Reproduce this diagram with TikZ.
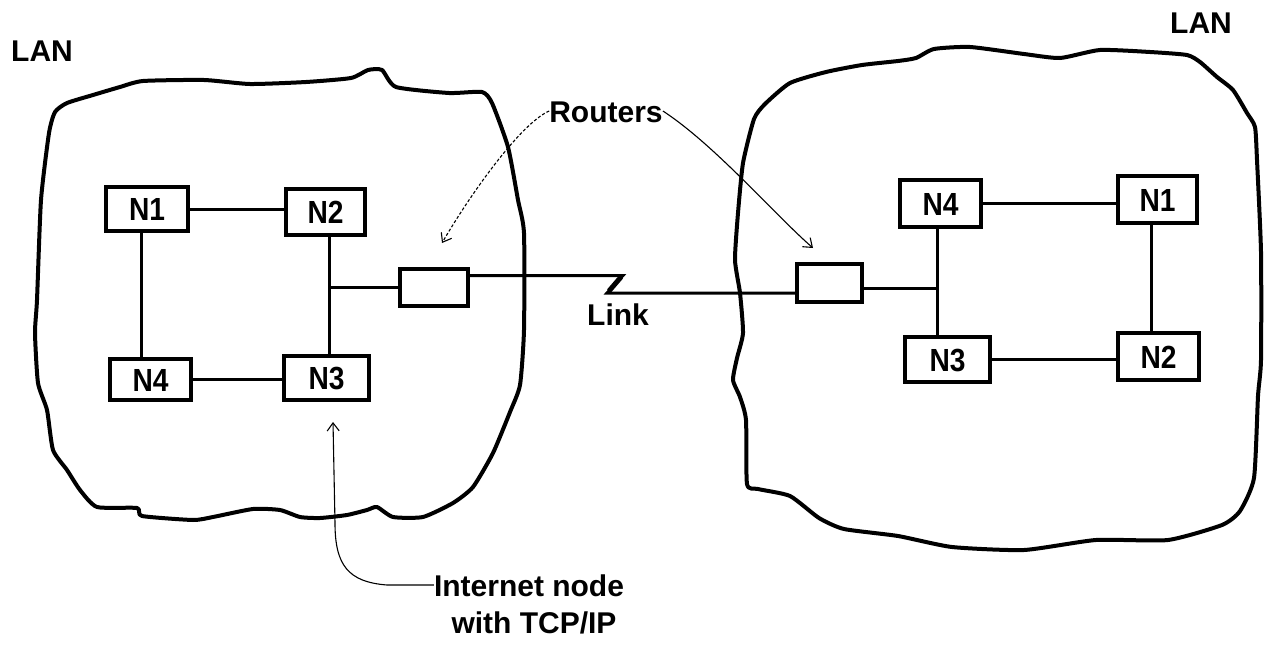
\documentclass[tikz,border=0pt]{standalone}
\usepackage{fontspec}
\setmainfont{Liberation Sans}
\newfontfamily\lblfont{Liberation Sans}
\newfontfamily\nodefont{Liberation Sans}[FakeStretch=0.88]
\usetikzlibrary{arrows.meta,calc}
\begin{document}
\begin{tikzpicture}[x=1pt,y=-1pt,
  txt/.style={inner sep=0pt,text height=22pt,text depth=0pt,font=\lblfont\bfseries\fontsize{30}{36}\selectfont},
  nbox/.style={draw,line width=3.5pt,inner sep=0pt,outer sep=0pt,text height=23pt,text depth=0pt,font=\nodefont\bfseries\fontsize{32}{38}\selectfont},
  rbox/.style={draw,line width=3.5pt,inner sep=0pt,outer sep=0pt},
  wire/.style={line width=3pt},
  blob/.style={line width=4pt,line join=round},
  ptr/.style={line width=1.1pt,-{Straight Barb[length=8pt,width=12pt]}}
]
\useasboundingbox[fill=white] (0,0) rectangle (1264,645);

% LAN clouds
\draw[blob] plot[smooth cycle,tension=0.35] coordinates {
 (55,112) (67,103) (93,95) (120,87) (143,81) (204,80) (250,84) (306,82) (351,78)
 (368,70) (382,70) (396,87) (449,93) (482,92) (492,103) (508,147) (518,200)
 (524,233) (524,330) (520,385) (510,412) (493,453) (473,487) (453,503) (423,517)
 (393,517) (377,507) (367,510) (347,515) (320,518) (300,517) (280,510) (253,509)
 (213,517) (193,520) (142,516) (137,508) (97,507) (80,490) (67,470) (53,450)
 (47,410) (38,383) (35,333) (37,300) (41,200) (49,133)};
\draw[blob] plot[smooth cycle,tension=0.35] coordinates {
 (765,104) (790,83) (826,72) (862,65) (898,61) (916,58) (934,49) (970,47)
 (1024,54) (1060,58) (1100,50) (1150,52) (1187,55) (1200,62) (1217,77) (1233,90)
 (1247,113) (1255,127) (1257,160) (1261,252) (1261,360) (1258,396) (1254,478)
 (1240,511) (1222,525) (1168,540) (1096,540) (1024,550) (952,547) (898,536)
 (844,529) (819,518) (790,496) (758,489) (747,484) (746,420) (740,397) (733,380)
 (737,358) (743,333) (740,293) (735,260) (738,213) (743,163) (754,119)};

% labels
\node[txt] (lanL) at (42,50) {LAN};
\node[txt] (lanR) at (1201,23) {LAN};
\node[txt] (routers) at (606,111) {Routers};
\node[txt] (linklbl) at (618,314) {Link};
\node[txt] (inet1) at (529,585) {Internet node};
\node[txt] (inet2) at (534,622) {with TCP/IP};

% left LAN nodes
\node[nbox,minimum width=82pt,minimum height=44pt] (lN1) at (147,209) {N1};
\node[nbox,minimum width=79pt,minimum height=46pt] (lN2) at (325.5,212) {N2};
\node[nbox,minimum width=81pt,minimum height=41pt] (lN4) at (150.5,379.5) {N4};
\node[nbox,minimum width=85pt,minimum height=44pt] (lN3) at (326.5,378) {N3};
\node[rbox,minimum width=68pt,minimum height=37pt] (lR) at (434,287.5) {};

% right LAN nodes
\node[nbox,minimum width=81pt,minimum height=47pt] (rN4) at (940.5,203.5) {N4};
\node[nbox,minimum width=79pt,minimum height=47pt] (rN1) at (1157.5,199.5) {N1};
\node[nbox,minimum width=85pt,minimum height=45pt] (rN3) at (947.5,359.5) {N3};
\node[nbox,minimum width=81pt,minimum height=47pt] (rN2) at (1158.5,356.5) {N2};
\node[rbox,minimum width=65pt,minimum height=38pt] (rR) at (829.5,283) {};

% left wiring
\draw[wire] (lN1.east) -- (lN1.east -| lN2.west);
\coordinate (lv1) at ($(lN1.south)+(-6,0)$);
\draw[wire] (lv1) -- (lv1 |- lN4.north);
\draw[wire] (lN4.east) -- (lN4.east -| lN3.west);
\coordinate (lbus) at ($(lN2.south)+(3.5,0)$);
\draw[wire] (lbus) -- (lbus |- lN3.north);
\draw[wire] (lR.west) -- (lR.west -| lbus);

% right wiring
\draw[wire] (rN4.east) -- (rN4.east -| rN1.west);
\coordinate (rv1) at ($(rN1.south)+(-6.5,0)$);
\draw[wire] (rv1) -- (rv1 |- rN2.north);
\draw[wire] (rN3.east) -- (rN3.east -| rN2.west);
\coordinate (rbus) at ($(rN4.south)+(-3.5,0)$);
\draw[wire] (rbus) -- (rbus |- rN3.north);
\coordinate (rRout) at ($(rR.east)+(0,5)$);
\draw[wire] (rRout) -- (rRout -| rbus);

% link with zigzag
\coordinate (lRout) at ($(lR.east)+(0,-12)$);
\coordinate (rRin) at ($(rR.west)+(0,10)$);
\coordinate (zA) at (623,275.5);
\coordinate (zB) at (607,293);
\draw[wire,line join=miter] (lRout) -- (zA) -- (zB) -- (rRin);
\draw[line width=5pt] (621,277) -- (609,291);

% annotation arrows
\coordinate (lRtip) at (442,243);
\coordinate (rRtip) at (813,248);
\coordinate (inTip) at (333,422);
\draw[ptr,densely dashed] (routers.west) .. controls (520,124) and (470,195) .. (lRtip);
\draw[ptr] (routers.east) .. controls (715,145) and (775,215) .. (rRtip);
\draw[ptr] (inet1.west) -- (387,585) .. controls (348,582) and (335,565) .. (335,523) -- (inTip);
\end{tikzpicture}
\end{document}
